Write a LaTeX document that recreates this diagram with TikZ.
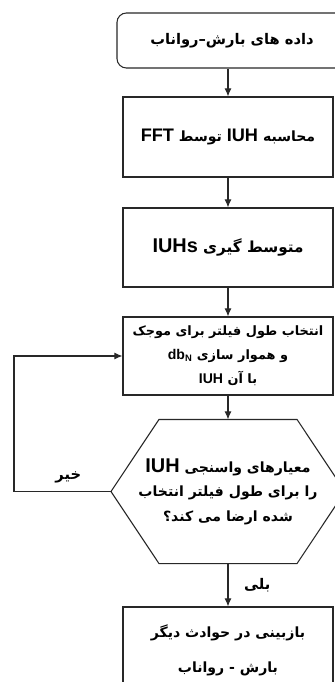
\documentclass[tikz,border=0pt]{standalone}
\usepackage{fontspec}
\usetikzlibrary{arrows.meta}
\TeXXeTstate=1
\newfontfamily\fafont[Script=Arabic]{DejaVu Sans}
\newfontfamily\enfont{Liberation Sans}
\newcommand{\lat}[2][16]{\beginL{\enfont\bfseries\fontsize{#1}{#1}\selectfont #2}\endL}
\definecolor{flowc1}{RGB}{40,40,40}

\tikzset{
	flowbox/.style={draw=flowc1, line width=0.9pt, minimum width=6.3cm, minimum height=2.4cm, align=center, font=\fafont\bfseries\fontsize{12}{21}\selectfont},
	flowarrow/.style={draw=flowc1, line width=0.9pt, -{Latex[length=7pt,width=6pt]}},
	flowlabel/.style={font=\fafont\bfseries\fontsize{12.5}{14}\selectfont}
}

\begin{document}
\begin{tikzpicture}[x=0.03cm, y=-0.03cm]
					\useasboundingbox (0,0) rectangle (334,682);
					\node[flowbox, rounded corners=8pt, minimum width=6.9cm, minimum height=1.65cm, font=\fafont\bfseries\fontsize{12.5}{21}\selectfont] (n1) at (232,40.5) {\beginR داده های بارش–رواناب\endR};
					\node[flowbox] (n2) at (228,137) {\beginR محاسبه \lat[15.5]{IUH} توسط \lat[15.5]{FFT}\endR};
					\node[flowbox, minimum height=2.37cm, font=\fafont\bfseries\fontsize{13}{21}\selectfont] (n3) at (228,247.5) {\beginR متوسط گیری \lat[17]{IUHs}\endR};
					\node[flowbox, minimum height=2.34cm, inner sep=0pt, font=\fafont\bfseries\fontsize{11}{20.5}\selectfont] (n4) at (228,356) {\beginR انتخاب طول فیلتر برای موجک\endR\\\beginR و هموار سازی \lat[12]{db\textsubscript{N}}\endR\\\beginR با آن \lat[12]{IUH}\endR};
					\node[flowbox, draw=none, minimum width=6.99cm, minimum height=4.29cm, inner sep=0pt] (n5) at (228,491.5) {\beginR معیارهای واسنجی \lat[17]{IUH}\endR\\\beginR را برای طول فیلتر انتخاب\endR\\\beginR شده ارضا می کند؟\endR};
					\node[flowbox, minimum height=2.58cm, font=\fafont\bfseries\fontsize{12}{30}\selectfont] (n6) at (228,650) {\beginR بازبینی در حوادث دیگر\endR\\\beginR بارش - رواناب\endR};
					\coordinate (c1) at (14,491.5);
					
					\draw[draw=flowc1, line width=0.9pt] (n5.west) -- ([xshift=1.44cm]n5.north west) -- ([xshift=-1.44cm]n5.north east) -- (n5.east) -- ([xshift=-1.44cm]n5.south east) -- ([xshift=1.44cm]n5.south west) -- cycle;
					
					\draw[flowarrow] (n1.south -| n2) -- (n2);
					\draw[flowarrow] (n2) -- (n3);
					\draw[flowarrow] (n3) -- (n4);
					\draw[flowarrow] (n4) -- (n5);
					\draw[flowarrow] (n5) -- node[right=10pt, flowlabel] (yes) {\beginR بلی\endR} (n6);
					\draw[flowarrow] (n5.west) -- node[above, pos=0.44, yshift=3pt, flowlabel] (no) {\beginR خیر\endR} (c1) |- (n4.west);
					\end{tikzpicture}
\end{document}
